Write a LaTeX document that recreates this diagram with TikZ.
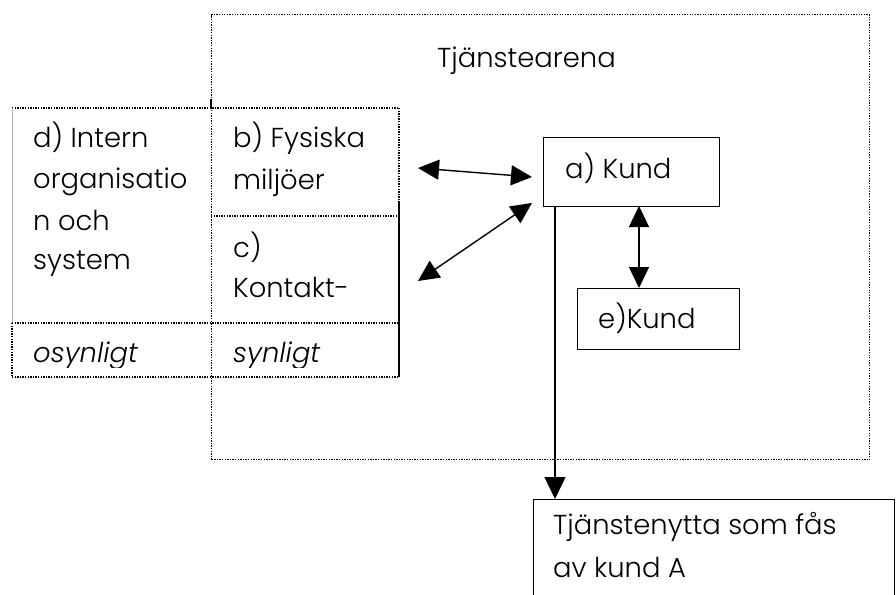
\documentclass[tikz,border=0pt]{standalone}
\usepackage{fontspec}
\setmainfont{Poppins}[UprightFont=* Light, ItalicFont=* Light Italic]
\usetikzlibrary{arrows.meta}
\begin{document}
\begin{tikzpicture}[x=1pt,y=-1pt,
  dotline/.style={line width=1.3pt, dash pattern=on 1.3pt off 1.3pt},
  solidbox/.style={draw, line width=1.3pt, rectangle, inner sep=0pt, anchor=north west},
  txt/.style={anchor=base west, inner sep=0pt, font=\fontsize{27.4}{32}\selectfont},
  itxt/.style={txt, font=\fontsize{27.4}{32}\selectfont\itshape},
  arr/.style={line width=1.4pt, -{Triangle[length=22pt,width=21pt]}},
  darr/.style={line width=1.4pt, {Triangle[length=21pt,width=20pt]}-{Triangle[length=21pt,width=20pt]}}]
\useasboundingbox (0,0) rectangle (896,594);
\clip (0,0) rectangle (896,594);
\fill[white] (0,0) rectangle (896,594);

% Tjanstearena container
\node[draw, dotline, rectangle, inner sep=0pt, anchor=north west,
      minimum width=658pt, minimum height=445pt] (arena) at (211,14) {};
\node[txt] (arenatxt) at (437,67) {Tjänstearena};

% left table
\draw[dotline] (12,108) -- (399,108);
\draw[gray!60, line width=0.8pt] (12,108) -- (12,323);
\draw[dotline] (12,323) -- (12,377);
\draw[dotline] (12,323) -- (399,323);
\draw[dotline] (12,377) -- (399,377);
\draw[dotline] (211,216) -- (399,216);
\draw[dotline] (399,108) -- (399,201);
\draw[line width=1.6pt] (399,201) -- (399,377);
\draw[line width=1.8pt] (211,99) -- (211,109);

\node[txt] (d1) at (33,147) {d) Intern};
\node[txt] (d2) at (33,188) {organisatio};
\node[txt] (d3) at (33,230) {n och};
\node[txt] (d4) at (33,269) {system};
\node[txt] (b1) at (233,147) {b) Fysiska};
\node[txt] (b2) at (233,189) {miljöer};
\node[txt] (c1) at (233,257) {c)};
\node[txt] (c2) at (233,297) {Kontakt-};
\begin{scope}
\clip (0,330) rectangle (896,367);
\node[itxt] (osyn) at (33,362) {osynligt};
\node[itxt] (syn) at (233,362) {synligt};
\end{scope}

% boxes
\node[solidbox, minimum width=176pt, minimum height=69pt] (kund) at (543,137) {};
\node[txt] (kundtxt) at (565,178) {a) Kund};
\node[solidbox, minimum width=162pt, minimum height=61pt] (ekund) at (577,288) {};
\node[txt] (ekundtxt) at (598,328) {e)Kund};
\node[solidbox, minimum width=361pt, minimum height=150pt] (nytta) at (533,499) {};
\node[txt] (n1) at (553,534) {Tjänstenytta som fås};
\node[txt] (n2) at (553,577) {av kund A};

% connectors
\coordinate (p1) at (418,168);
\coordinate (q1) at (532,177);
\coordinate (p2) at (418,281);
\coordinate (q2) at (532,203);
\draw[darr] (p1) -- (q1);
\draw[darr] (p2) -- (q2);
\coordinate (k2) at (639,206);
\draw[darr] (k2) -- (k2 |- ekund.north);
\coordinate (k1) at (555,206);
\draw[arr] (k1) -- (k1 |- nytta.north);
\end{tikzpicture}
\end{document}
